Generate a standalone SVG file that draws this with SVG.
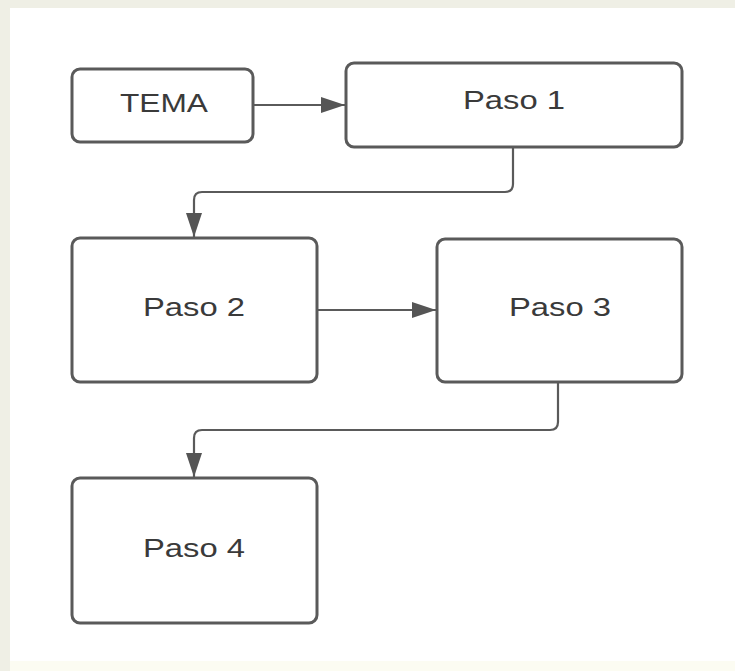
<svg xmlns="http://www.w3.org/2000/svg" width="735" height="671" viewBox="0 0 735 671">
<defs>
<style>
.node rect{fill:#ffffff;stroke:#5a5a5a;stroke-width:3}
.node text{font-family:"Liberation Sans",Arial,sans-serif;font-size:25px;fill:#3a3a3a;text-anchor:middle}
.conn path{fill:none;stroke:#5a5a5a;stroke-width:2.2}
</style>
<marker id="arr" markerUnits="userSpaceOnUse" markerWidth="26" markerHeight="18" refX="24" refY="8" orient="auto">
<path d="M0,0 L24,8 L0,16 Z" fill="#555555"/>
</marker>
</defs>
<rect x="0" y="0" width="735" height="671" fill="#fcfcf2"/>
<rect x="0" y="0" width="10" height="671" fill="#efefe5"/>
<rect x="0" y="0" width="735" height="8" fill="#efefe5"/>
<rect x="10" y="8" width="725" height="653" fill="#ffffff"/>
<g class="conn">
<path d="M253,105 H345" marker-end="url(#arr)"/>
<path d="M513,147 V184 Q513,192 505,192 H202 Q194,192 194,200 V237" marker-end="url(#arr)"/>
<path d="M317,310 H436" marker-end="url(#arr)"/>
<path d="M558,382 V422 Q558,430 550,430 H202 Q194,430 194,438 V477" marker-end="url(#arr)"/>
</g>
<g id="tema" class="node">
<rect x="72" y="69" width="181" height="73" rx="8"/>
<text x="164" y="112" textLength="88" lengthAdjust="spacingAndGlyphs">TEMA</text>
</g>
<g id="paso1" class="node">
<rect x="346" y="63" width="336" height="84" rx="8"/>
<text x="514" y="109" textLength="102" lengthAdjust="spacingAndGlyphs">Paso 1</text>
</g>
<g id="paso2" class="node">
<rect x="72" y="238" width="245" height="144" rx="8"/>
<text x="194" y="316" textLength="102" lengthAdjust="spacingAndGlyphs">Paso 2</text>
</g>
<g id="paso3" class="node">
<rect x="437" y="239" width="245" height="143" rx="8"/>
<text x="560" y="316" textLength="102" lengthAdjust="spacingAndGlyphs">Paso 3</text>
</g>
<g id="paso4" class="node">
<rect x="72" y="478" width="245" height="145" rx="8"/>
<text x="194" y="557" textLength="102" lengthAdjust="spacingAndGlyphs">Paso 4</text>
</g>
</svg>
